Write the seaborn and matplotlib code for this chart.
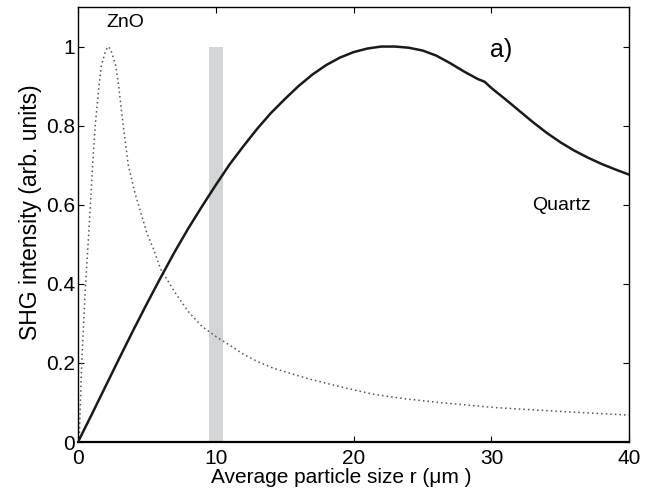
import matplotlib
matplotlib.use("Agg")
import matplotlib.pyplot as plt
import seaborn as sns
import pandas as pd

# ---- data ----
quartz_x = [0, 1, 2, 3, 4, 5, 6, 7, 8, 9, 10, 11, 12, 13, 14, 15, 16, 17, 18, 19,
            20, 21, 22, 23, 24, 25, 26, 27, 28, 29, 29.5, 30, 31, 32, 33, 34, 35,
            36, 37, 38, 39, 40]
quartz_y = [0, 0.07, 0.141, 0.212, 0.282, 0.35, 0.416, 0.48, 0.54, 0.596, 0.65,
            0.702, 0.748, 0.792, 0.832, 0.867, 0.9, 0.929, 0.953, 0.972, 0.986,
            0.995, 1.0, 1.0, 0.997, 0.99, 0.977, 0.958, 0.937, 0.918, 0.911,
            0.895, 0.867, 0.838, 0.809, 0.782, 0.758, 0.737, 0.719, 0.703, 0.689,
            0.676]

zno_x = [0, 0.1, 0.27, 0.55, 0.82, 1.06, 1.25, 1.52, 1.69, 2.0, 2.2, 2.4, 2.75,
         2.95, 3.28, 3.65, 4.13, 4.5, 5.0, 5.5, 6.0, 7.0, 8.0, 9.0, 10.0, 11.0,
         12.0, 13.0, 14.15, 16.6, 19.0, 21.4, 23.8, 26.2, 30.3, 35.2, 40.0]
zno_y = [0, 0.02, 0.2, 0.4, 0.55, 0.7, 0.8, 0.9, 0.95, 0.99, 1.0, 0.99, 0.95,
         0.9, 0.8, 0.7, 0.63, 0.587, 0.528, 0.486, 0.437, 0.38, 0.33, 0.292,
         0.267, 0.245, 0.222, 0.204, 0.187, 0.161, 0.14, 0.121, 0.109, 0.1,
         0.087, 0.077, 0.068]

band_x = [9.5, 10.5]
band_top = 1.0

x_ticks = [0, 10, 20, 30, 40]
y_ticks = [0, 0.2, 0.4, 0.6, 0.8, 1.0]
y_tick_labels = ["0", "0.2", "0.4", "0.6", "0.8", "1"]

sns.set_theme(style="ticks")
plt.rcParams["font.family"] = ["Liberation Sans", "DejaVu Sans"]
plt.rcParams["text.color"] = "black"
plt.rcParams["axes.labelcolor"] = "black"
plt.rcParams["xtick.color"] = "black"
plt.rcParams["ytick.color"] = "black"

fig = plt.figure(figsize=(6.56, 4.93), dpi=100)
ax = fig.add_axes([0.1189, 0.1034, 0.8404, 0.8824])

ax.fill_between(band_x, 0, band_top, color="#d4d5d7", linewidth=0, zorder=1)

df_q = pd.DataFrame({"x": quartz_x, "y": quartz_y})
df_z = pd.DataFrame({"x": zno_x, "y": zno_y})
sns.lineplot(data=df_z, x="x", y="y", ax=ax, color="#555555", linewidth=1.1,
             linestyle=(0, (1, 2.0)), zorder=2)
sns.lineplot(data=df_q, x="x", y="y", ax=ax, color="#1a1a1a", linewidth=1.8,
             zorder=3)

ax.set_xlim(0, 40)
ax.set_ylim(0, 1.1)
ax.set_xticks(x_ticks)
ax.set_xticklabels([str(t) for t in x_ticks])
ax.set_yticks(y_ticks)
ax.set_yticklabels(y_tick_labels)

ax.tick_params(axis="both", direction="in", length=4, width=0.8, labelsize=15,
               top=True, right=True, colors="black", labelcolor="black")
ax.tick_params(axis="x", pad=5)
ax.tick_params(axis="y", pad=2)
for s in ax.spines.values():
    s.set_linewidth(1.0)
    s.set_color("black")
ax.spines["bottom"].set_linewidth(1.6)

ax.set_xlabel("Average particle size r (\u03bcm )", fontsize=15, labelpad=0,
              color="black", x=0.477)
ax.set_ylabel("SHG intensity (arb. units)", fontsize=16.5, labelpad=3,
              color="black", y=0.529)

ax.text(3.4, 1.061, "ZnO", fontsize=14, ha="center", va="center", color="black")
ax.text(30.7, 0.992, "a)", fontsize=18, ha="center", va="center", color="black")
ax.text(35.1, 0.598, "Quartz", fontsize=14, ha="center", va="center",
        color="black")

fig.savefig("out.png", dpi=100)
